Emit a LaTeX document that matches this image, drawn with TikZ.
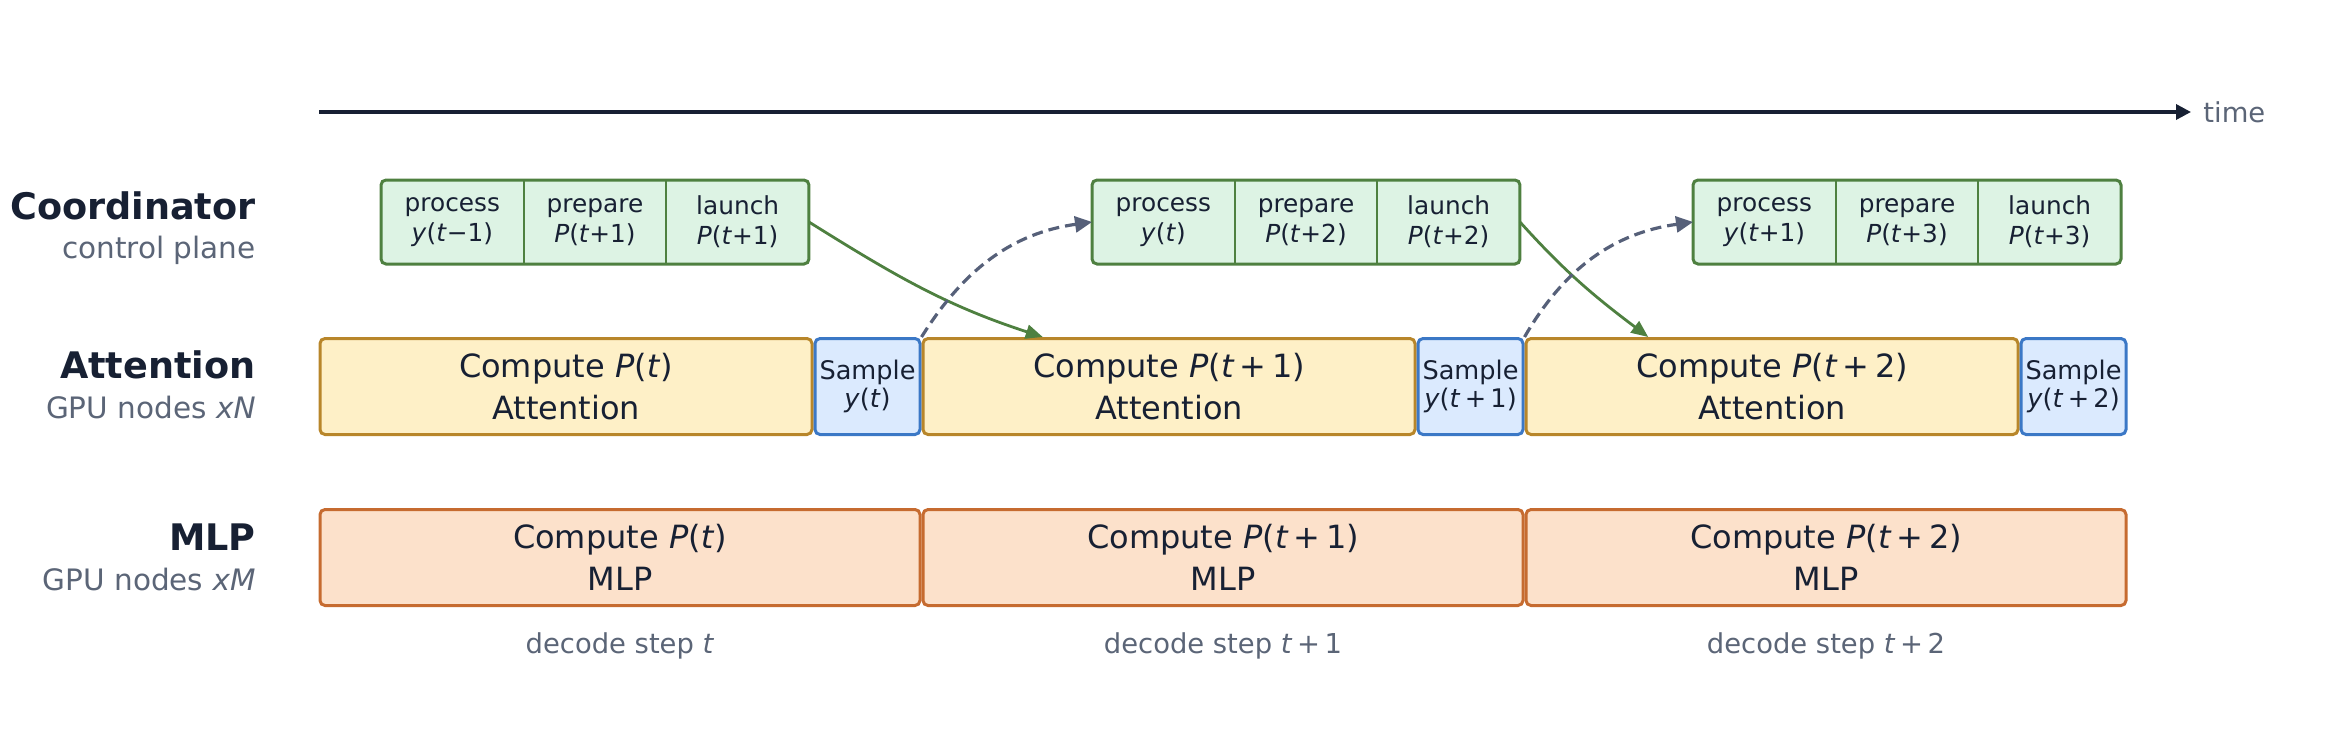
\documentclass[tikz,border=0pt]{standalone}
\usepackage{fontspec}
\setmainfont{DejaVu Sans}
\usepackage{tikz}
\usetikzlibrary{arrows.meta,positioning,calc,backgrounds}

\definecolor{ink}{HTML}{172033}
\definecolor{muted}{HTML}{5B6577}
\definecolor{coordline}{HTML}{4E8040}
\definecolor{coordfill}{HTML}{DDF3E4}
\definecolor{attnline}{HTML}{B8862A}
\definecolor{attnfill}{HTML}{FEF0C7}
\definecolor{sampline}{HTML}{3B78C6}
\definecolor{sampfill}{HTML}{DBEAFE}
\definecolor{mlpline}{HTML}{C66B30}
\definecolor{mlpfill}{HTML}{FCE1CB}
\definecolor{feedcol}{HTML}{566079}
\newcommand{\vi}[1]{\textit{#1}}

\begin{document}
\begin{tikzpicture}[x=0.5pt, y=0.5pt, text=ink,
  rowlab/.style={anchor=base east, inner sep=0pt, font=\bfseries\fontsize{18.3}{22}\selectfont},
  sublab/.style={anchor=base east, inner sep=0pt, text=muted, font=\fontsize{14.75}{18}\selectfont},
  cell/.style={align=center, inner sep=0pt, outer sep=0pt, minimum width=71.33pt, minimum height=42pt, font=\fontsize{12.4}{15.2}\selectfont},
  grp/.style={draw=coordline, fill=coordfill, line width=1.5pt, rounded corners=2.5pt},
  divider/.style={draw=coordline, line width=1.1pt},
  attn/.style={draw=attnline, fill=attnfill, line width=1.5pt, rounded corners=2.5pt, align=center, minimum width=246pt, minimum height=48pt, font=\fontsize{16}{21}\selectfont},
  samp/.style={draw=sampline, fill=sampfill, line width=1.5pt, rounded corners=2.5pt, align=center, minimum width=52.5pt, minimum height=48pt, inner sep=1pt, font=\fontsize{12.8}{14.4}\selectfont},
  mlp/.style={draw=mlpline, fill=mlpfill, line width=1.5pt, rounded corners=2.5pt, align=center, minimum width=300pt, minimum height=48pt, font=\fontsize{16}{21}\selectfont},
  steplab/.style={inner sep=0pt, text=muted, font=\fontsize{13.7}{16}\selectfont},
  axis/.style={-{Triangle[length=7.5pt, width=7.5pt]}, line width=1.7pt, draw=ink},
  launcharr/.style={-{Triangle[length=8.5pt, width=7pt]}, line width=1.4pt, draw=coordline},
  feedarr/.style={-{Triangle[length=8.5pt, width=8pt]}, line width=1.6pt, draw=feedcol, dash pattern=on 5.5pt off 3pt}]
  \path[use as bounding box] (0,0) rectangle (2345,-739);
  % time axis
  \coordinate (t0) at (319,-112);
  \coordinate (t1) at (2191,-112);
  \draw[axis] (t0) -- (t1);
  \node[steplab, right=6pt of t1] (timelab) {time};
  % row labels
  \node[rowlab] (coordlab) at (256,-219) {Coordinator};
  \node[sublab] (coordsub) at ([yshift=-19.5pt]coordlab.base east) {control plane};
  \node[rowlab] (attnlab) at (256,-378) {Attention};
  \node[sublab] (attnsub) at ([yshift=-20pt]attnlab.base east) {GPU nodes \vi{xN}};
  \node[rowlab] (mlplab) at (256,-550) {MLP};
  \node[sublab] (mlpsub) at ([yshift=-20pt]mlplab.base east) {GPU nodes \vi{xM}};
  % coordinator: process / prepare / launch
  \node[cell, anchor=north west] (p1) at (381,-180) {process\\\vi{y}(\vi{t}−1)};
  \node[cell, right=0pt of p1] (q1) {prepare\\\vi{P}(\vi{t}+1)};
  \node[cell, right=0pt of q1] (l1) {launch\\\vi{P}(\vi{t}+1)};
  \node[cell, anchor=north west] (p2) at (1092,-180) {process\\\vi{y}(\vi{t})};
  \node[cell, right=0pt of p2] (q2) {prepare\\\vi{P}(\vi{t}+2)};
  \node[cell, right=0pt of q2] (l2) {launch\\\vi{P}(\vi{t}+2)};
  \node[cell, anchor=north west] (p3) at (1693,-180) {process\\\vi{y}(\vi{t}+1)};
  \node[cell, right=0pt of p3] (q3) {prepare\\\vi{P}(\vi{t}+3)};
  \node[cell, right=0pt of q3] (l3) {launch\\\vi{P}(\vi{t}+3)};
  \begin{scope}[on background layer]
    \draw[grp] (p1.north west) rectangle (l1.south east);
    \draw[grp] (p2.north west) rectangle (l2.south east);
    \draw[grp] (p3.north west) rectangle (l3.south east);
  \end{scope}
  \draw[divider] (p1.north east) -- (p1.south east); \draw[divider] (q1.north east) -- (q1.south east);
  \draw[divider] (p2.north east) -- (p2.south east); \draw[divider] (q2.north east) -- (q2.south east);
  \draw[divider] (p3.north east) -- (p3.south east); \draw[divider] (q3.north east) -- (q3.south east);
  % attention row
  \node[attn, anchor=west] (att1) at (318.5,-386.5) {Compute \vi{P}(\vi{t})\\Attention};
  \node[samp, right=0pt of att1] (smp1) {Sample\\\vi{y}(\vi{t})};
  \node[attn, right=0pt of smp1] (att2) {Compute \vi{P}(\vi{t}\,+\,1)\\Attention};
  \node[samp, right=0pt of att2] (smp2) {Sample\\\vi{y}(\vi{t}\,+\,1)};
  \node[attn, right=0pt of smp2] (att3) {Compute \vi{P}(\vi{t}\,+\,2)\\Attention};
  \node[samp, right=0pt of att3] (smp3) {Sample\\\vi{y}(\vi{t}\,+\,2)};
  % mlp row
  \node[mlp, below=36pt of att1.south west, anchor=north west] (mlp1) {Compute \vi{P}(\vi{t})\\MLP};
  \node[mlp, right=0pt of mlp1] (mlp2) {Compute \vi{P}(\vi{t}\,+\,1)\\MLP};
  \node[mlp, right=0pt of mlp2] (mlp3) {Compute \vi{P}(\vi{t}\,+\,2)\\MLP};
  \node[steplab, below=12.5pt of mlp1] (step1) {decode step \vi{t}};
  \node[steplab, below=12.5pt of mlp2] (step2) {decode step \vi{t}\,+\,1};
  \node[steplab, below=12.5pt of mlp3] (step3) {decode step \vi{t}\,+\,2};
  % launch and feedback arrows
  \draw[launcharr] (l1.east) to[out=-32, in=162] ($(att2.north west)!0.245!(att2.north east)$);
  \draw[launcharr] (l2.east) to[out=-48, in=143] ($(att3.north west)!0.25!(att3.north east)$);
  \draw[feedarr] (smp1.north east) to[out=58, in=188] (p2.west);
  \draw[feedarr] (smp2.north east) to[out=60, in=188] (p3.west);
\end{tikzpicture}
\end{document}
